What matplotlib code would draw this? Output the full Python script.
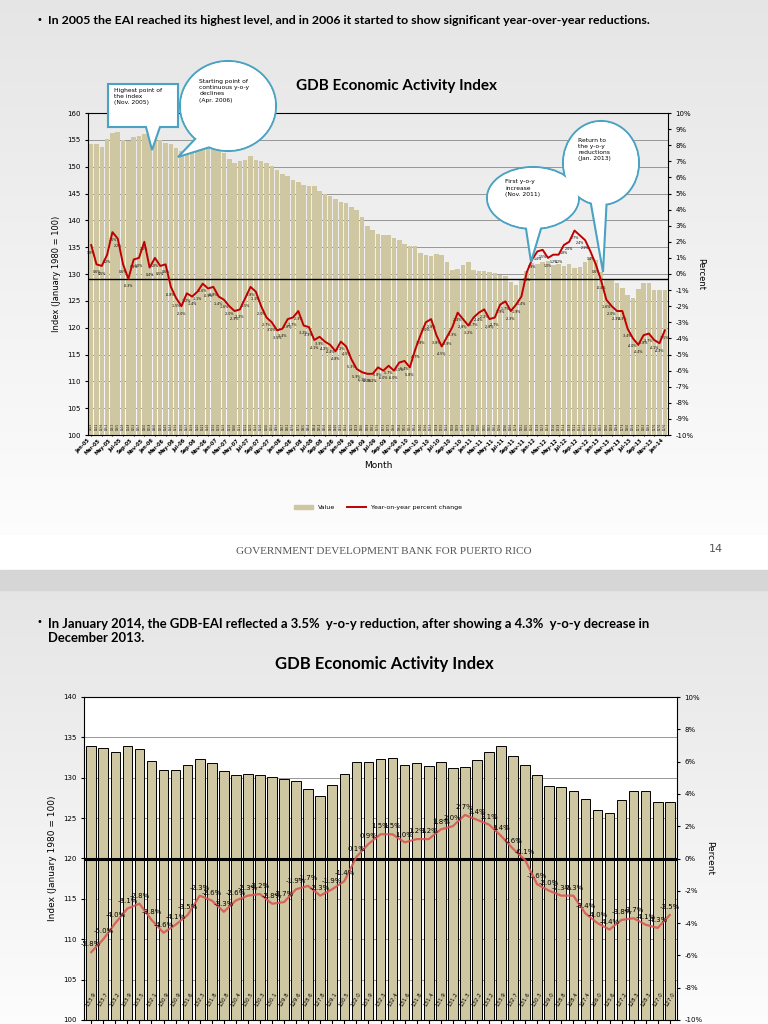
import matplotlib
matplotlib.use("Agg")
import matplotlib.pyplot as plt
import numpy as np
from matplotlib.patches import Ellipse, Polygon, Rectangle, Patch
from matplotlib.lines import Line2D

# ---------------- data ----------------
top_values = [
    154.3, 154.2, 153.6, 155.1, 156.3, 156.5, 154.9, 154.8, 155.5, 155.7, 156.0, 155.8,
    156.0, 155.0, 154.5, 154.3, 153.5, 153.0, 152.7, 153.9, 154.5, 154.2, 154.0, 153.5,
    153.5, 152.5, 151.5, 150.6, 151.1, 151.2, 152.0, 151.3, 151.0, 150.6, 150.2, 149.3,
    148.7, 148.2, 147.6, 147.1, 146.5, 146.4, 146.4, 145.4, 145.0, 144.6, 144.0, 143.5,
    143.2, 142.5, 141.9, 140.6, 138.9, 138.2, 137.5, 137.3, 137.3, 136.8, 136.4, 135.5,
    135.3, 135.2, 134.0, 133.6, 133.3, 133.8, 133.5, 132.2, 130.8, 130.9, 131.6, 132.3,
    130.8, 130.5, 130.5, 130.3, 130.1, 129.8, 129.6, 128.6, 127.9, 129.1, 130.5, 132.0,
    131.9, 132.3, 132.4, 131.6, 131.8, 131.4, 131.9, 131.2, 131.3, 132.2, 133.2, 132.7,
    130.3, 129.0, 128.8, 128.4, 127.4, 126.0, 125.6, 127.2, 128.3, 128.3, 127.0, 127.0,
    127.0]
top_pct = [
    1.8, 0.6, 0.5, 1.2, 2.6, 2.2, 0.6, -0.3, 0.9, 1.0, 2.0, 0.4,
    1.0, 0.5, 0.6, -0.8, -1.5, -2.0, -1.2, -1.4, -1.1, -0.6, -0.9, -0.8,
    -1.4, -1.6, -2.0, -2.3, -2.2, -1.5, -0.8, -1.1, -2.0, -2.7, -3.0, -3.5,
    -3.4, -2.8, -2.7, -2.3, -3.2, -3.3, -4.1, -3.9, -4.2, -4.4, -4.8, -4.2,
    -4.5, -5.3, -5.9, -6.1, -6.2, -6.2, -5.8, -6.0, -5.7, -6.0, -5.5, -5.4,
    -5.8, -4.7, -3.8, -3.0, -2.8, -3.8, -4.5, -3.9, -3.3, -2.4, -2.8, -3.2,
    -2.7, -2.4, -2.2, -2.8, -2.7, -1.9, -1.7, -2.3, -1.9, -1.4, 0.1, 0.9,
    1.4, 1.5, 1.0, 1.2, 1.2, 1.8, 2.0, 2.7, 2.4, 2.1, 1.4, 0.6,
    -0.4, -1.6, -2.0, -2.3, -2.3, -3.4, -4.0, -4.4, -3.8, -3.7, -4.1, -4.3,
    -3.5]
months = ["Jan", "Feb", "Mar", "Apr", "May", "Jun", "Jul", "Aug", "Sep", "Oct", "Nov", "Dec"]
top_labels = [f"{months[i % 12]}-{5 + i // 12:02d}" for i in range(len(top_values))]

bot_values = [133.9, 133.7, 133.2, 133.9, 133.5, 132.1, 130.9, 130.9, 131.6, 132.3,
              131.8, 130.8, 130.4, 130.5, 130.3, 130.1, 129.8, 129.6, 128.6, 127.8,
              129.1, 130.5, 132.0, 131.9, 132.3, 132.4, 131.6, 131.8, 131.4, 131.9,
              131.2, 131.3, 132.2, 133.2, 133.9, 132.7, 131.6, 130.3, 129.0, 128.8,
              128.4, 127.4, 126.0, 125.6, 127.2, 128.3, 128.3, 127.0, 127.0]
bot_pct = [-5.8, -5.0, -4.0, -3.1, -2.8, -3.8, -4.6, -4.1, -3.5, -2.3,
           -2.6, -3.3, -2.6, -2.3, -2.2, -2.8, -2.7, -1.9, -1.7, -2.3,
           -1.9, -1.4, 0.1, 0.9, 1.5, 1.5, 1.0, 1.2, 1.2, 1.8,
           2.0, 2.7, 2.4, 2.1, 1.4, 0.6, -0.1, -1.6, -2.0, -2.3,
           -2.3, -3.4, -4.0, -4.4, -3.8, -3.7, -4.1, -4.3, -3.5]
bot_labels = [f"{months[i % 12]}-{10 + i // 12:02d}" for i in range(len(bot_values))]

TAN = "#CFC7A2"
RED = "#C00000"
TEAL = "#4AA3C2"
FONT = "Lato"

fig = plt.figure(figsize=(7.68, 10.24), dpi=100)
W, H = 768, 1024

# background
bg = fig.add_axes([0, 0, 1, 1], zorder=-5)
bg.set_xlim(0, W); bg.set_ylim(H, 0); bg.axis("off")
grad = np.linspace(0.90, 0.99, 256).reshape(-1, 1)
bg.imshow(np.dstack([grad] * 3), extent=(0, W, 535, 0), aspect="auto")
bg.imshow(np.dstack([grad] * 3), extent=(0, W, 1024, 590), aspect="auto")
bg.add_patch(Rectangle((0, 535), W, 35, color="white"))
bg.add_patch(Rectangle((0, 570), W, 20, color="#d6d6d6"))
bg.text(384, 551, "GOVERNMENT DEVELOPMENT BANK FOR PUERTO RICO", ha="center", va="center",
        fontsize=8, family="Liberation Serif", color="#555555")
bg.text(716, 549, "14", ha="center", va="center", fontsize=8, color="#555555")
bg.text(36, 20, "•", fontsize=7, va="center")
bg.text(48, 20, "In 2005 the EAI reached its highest level, and in 2006 it started to show significant year-over-year reductions.",
        fontsize=8.9, fontweight="bold", family=FONT, va="center")
bg.text(36, 622, "•", fontsize=7, va="center")
bg.text(48, 631, "In January 2014, the GDB-EAI reflected a 3.5%  y-o-y reduction, after showing a 4.3%  y-o-y decrease in\nDecember 2013.",
        fontsize=9.4, fontweight="bold", family=FONT, va="center", linespacing=1.25)
bg.text(397, 86, "GDB Economic Activity Index", fontsize=11, fontweight="bold", family=FONT, ha="center", va="center")
bg.text(384, 664, "GDB Economic Activity Index", fontsize=12, fontweight="bold", family=FONT, ha="center", va="center")

# ---------------- top chart ----------------
ax = fig.add_axes([88 / W, 1 - 435 / H, 580 / W, 322 / H])
x = np.arange(len(top_values))
ax.bar(x, top_values, width=0.85, color=TAN, zorder=2)
ax.set_ylim(100, 160)
ax.set_yticks(range(100, 161, 5))
ax.set_xlim(-0.6, len(x) - 0.4)
ax.set_xticks(x[::2])
ax.set_xticklabels(top_labels[::2], rotation=45, ha="right", fontsize=3.6, fontweight="bold")
ax.grid(axis="y", color="#888888", lw=0.6, zorder=0)
ax.set_facecolor("none")
ax.tick_params(axis="y", labelsize=5, length=2)
ax.tick_params(axis="x", length=1, pad=1)
ax.set_ylabel("Index (January 1980 = 100)", fontsize=6)
ax.set_xlabel("Month", fontsize=6.5)
for s in ax.spines.values():
    s.set_linewidth(0.4)
for xi, v in zip(x, top_values):
    ax.text(xi, 101, f"{v:.1f}", rotation=90, fontsize=1.8, ha="center", va="bottom", zorder=3)
ax2 = ax.twinx()
ax2.set_ylim(-10, 10)
ax2.set_yticks(range(-10, 11, 1))
ax2.set_yticklabels([f"{t}%" for t in range(-10, 11, 1)], fontsize=5)
ax2.tick_params(axis="y", length=2)
ax2.axhline(-0.3, color="black", lw=1.0)
ax2.plot(x, top_pct, color=RED, lw=1.4, zorder=4)
for xi, p in zip(x, top_pct):
    ax2.text(xi, p - 0.35, f"{p:.1f}%", fontsize=2.3, ha="center", va="top")
ax2.set_ylabel("Percent", fontsize=6, rotation=270, labelpad=8)
handles = [Patch(color=TAN, label="Value"),
           Line2D([], [], color=RED, lw=1.4, label="Year-on-year percent change")]
ax2.legend(handles=handles, loc="upper center", bbox_to_anchor=(0.5, -0.2), ncol=2, frameon=False,
           fontsize=4.5, handlelength=3)

# ---------------- bottom chart ----------------
bx = fig.add_axes([84 / W, 1 - 1020 / H, 593 / W, 323 / H])
xb = np.arange(len(bot_values))
bx.bar(xb, bot_values, width=0.8, color=TAN, edgecolor="black", lw=0.7, zorder=2)
bx.set_ylim(100, 140)
bx.set_yticks(range(100, 141, 5))
bx.set_xlim(-0.6, len(xb) - 0.4)
bx.set_xticks(xb)
bx.set_xticklabels(bot_labels, rotation=45, ha="right", fontsize=4)
bx.grid(axis="y", color="#888888", lw=0.6, zorder=0)
bx.set_facecolor("white")
bx.tick_params(axis="y", labelsize=5, length=2)
bx.set_ylabel("Index (January 1980 = 100)", fontsize=6.5)
for s in bx.spines.values():
    s.set_linewidth(0.4)
for xi, v in zip(xb, bot_values):
    bx.text(xi, 102.5, f"{v:.1f}", rotation=60, fontsize=4, ha="center", va="center", zorder=3)
bx2 = bx.twinx()
bx2.set_ylim(-10, 10)
bx2.set_yticks(range(-10, 11, 2))
bx2.set_yticklabels([f"{t}%" for t in range(-10, 11, 2)], fontsize=5)
bx2.tick_params(axis="y", length=2)
bx2.axhline(0, color="black", lw=2.2, zorder=3)
bx2.plot(xb, bot_pct, color="#D9534F", lw=1.6, alpha=0.85, zorder=4)
for xi, p in zip(xb, bot_pct):
    bx2.text(xi, p + 0.3, f"{p:.1f}%", fontsize=5, ha="center", va="bottom", zorder=5)
bx2.set_ylabel("Percent", fontsize=6.5, rotation=270, labelpad=8)

# ---------------- callouts ----------------
ov = fig.add_axes([0, 0, 1, 1], zorder=20)
ov.set_xlim(0, W); ov.set_ylim(H, 0); ov.axis("off"); ov.patch.set_alpha(0)
ov.add_patch(Polygon([(108, 84), (178, 84), (178, 127), (160, 127), (152, 150), (146, 127), (108, 127)],
                     closed=True, fc="white", ec=TEAL, lw=1.5))
ov.text(114, 88, "Highest point of\nthe index\n(Nov. 2005)", fontsize=4.3, va="top", linespacing=1.3)


def bubble(cx, cy, w, h, tip, base_dx, text):
    ov.add_patch(Ellipse((cx, cy), w, h, fc="white", ec=TEAL, lw=1.5, zorder=1))
    ov.add_patch(Polygon([(cx - base_dx[0], cy + base_dx[1]), tip, (cx + base_dx[2], cy + base_dx[3])],
                         closed=True, fc="white", ec=TEAL, lw=1.5, zorder=1))
    ov.add_patch(Ellipse((cx, cy), w - 2, h - 2, fc="white", ec="none", zorder=2))
    ov.text(cx - w * 0.3, cy - h * 0.3, text, fontsize=4.3, va="top", linespacing=1.3, zorder=3)


bubble(228, 106, 96, 90, (178, 157), (30, 30, -8, 38), "Starting point of\ncontinuous y-o-y\ndeclines\n(Apr. 2006)")
bubble(533, 198, 92, 62, (531, 262), (8, 24, 10, 24), "First y-o-y\nincrease\n(Nov. 2011)")
bubble(601, 163, 76, 84, (603, 272), (12, 30, 6, 32), "Return to\nthe y-o-y\nreductions\n(Jan. 2013)")

fig.savefig("out.png", dpi=100)
